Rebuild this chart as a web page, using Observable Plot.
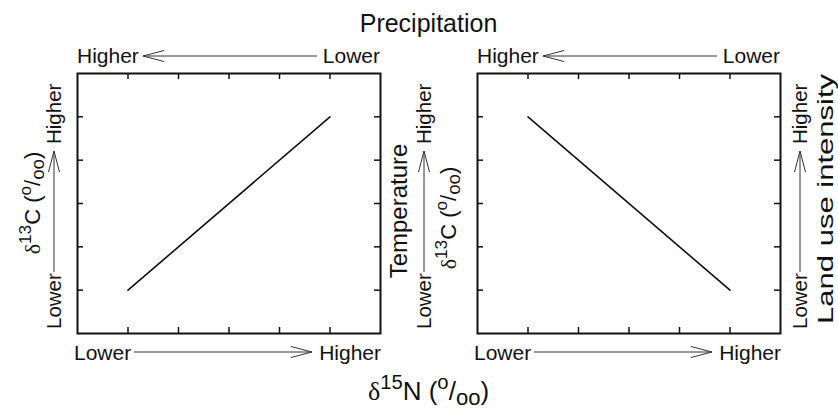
<!DOCTYPE html>
<html><head><meta charset="utf-8">
<script src="https://cdn.jsdelivr.net/npm/d3@7"></script>
<script src="https://cdn.jsdelivr.net/npm/@observablehq/plot@0.6"></script>
<style>
html,body{margin:0;padding:0;background:#fff;}
#chart{width:838px;height:412px;}
svg text{font-family:"Liberation Sans",Arial,Helvetica,sans-serif;fill:#111;}
</style></head><body><div id="chart"></div>
<script>
// ---- data ----
const panels = ["left", "right"];
const n15Values = [1, 5];          // δ15N position (Lower -> Higher)
const c13Left = [1, 5];            // δ13C, left panel
const c13Right = [5, 1];           // δ13C, right panel
const tickValues = [1, 2, 3, 4, 5];
const axisDomain = [0, 6];
const title = "Precipitation";
const topLabels = ["Higher", "Lower"];
const bottomLabels = ["Lower", "Higher"];
const sideLabels = ["Lower", "Higher"];
const middleLabel = "Temperature";
const rightLabel = "Land use intensity";

const rows = [
  ...n15Values.map((x, i) => ({panel: "left", x, y: c13Left[i]})),
  ...n15Values.map((x, i) => ({panel: "right", x, y: c13Right[i]}))
];

// ---- layout ----
const W = 838, H = 412, mT = 73, mB = 79, mL = 77, mR = 58;
const panelH = H - mT - mB;
const panelW = 303;
const tick = 6;
const ink = "#111";

const plot = Plot.plot({
  width: W, height: H,
  marginTop: mT, marginBottom: mB, marginLeft: mL, marginRight: mR,
  fx: {domain: panels, paddingInner: 0.2425, paddingOuter: 0, axis: null, label: null},
  x: {domain: axisDomain, axis: null},
  y: {domain: axisDomain, axis: null},
  style: {background: "white"},
  marks: [
    Plot.tickX(tickValues, {x: d => d, insetBottom: panelH - tick, stroke: ink, strokeWidth: 1.5}),
    Plot.tickX(tickValues, {x: d => d, insetTop: panelH - tick, stroke: ink, strokeWidth: 1.5}),
    Plot.tickY(tickValues, {y: d => d, insetRight: panelW - tick, stroke: ink, strokeWidth: 1.5}),
    Plot.tickY(tickValues, {y: d => d, insetLeft: panelW - tick, stroke: ink, strokeWidth: 1.5}),
    Plot.line(rows, {x: "x", y: "y", fx: "panel", stroke: ink, strokeWidth: 1.6}),
    Plot.frame({stroke: ink, strokeWidth: 2})
  ]
});
document.getElementById("chart").appendChild(plot);

// ---- annotation labels ----
const svg = d3.select(plot);
const g = svg.append("g");

function txt(x, y, str, size, anchor = "start", rot = 0) {
  return g.append("text")
    .attr("transform", `translate(${x},${y}) rotate(${rot})`)
    .attr("text-anchor", anchor).attr("font-size", size).text(str);
}
function arrow(x1, y1, x2, y2) { // tip at (x2,y2)
  g.append("line").attr("x1", x1).attr("y1", y1).attr("x2", x2).attr("y2", y2)
    .attr("stroke", "#333").attr("stroke-width", 1);
  const a = Math.atan2(y2 - y1, x2 - x1), L = 21, w = 5.5;
  const bx = x2 - L * Math.cos(a), by = y2 - L * Math.sin(a);
  const px = -Math.sin(a) * w, py = Math.cos(a) * w;
  g.append("path").attr("d", `M${bx + px},${by + py}L${x2},${y2}L${bx - px},${by - py}`)
    .attr("fill", "none").attr("stroke", "#333").attr("stroke-width", 1);
}
function iso(x, y, mass, elem, size, rot = 0) {
  const t = g.append("text")
    .attr("transform", `translate(${x},${y}) rotate(${rot})`)
    .attr("text-anchor", "middle").attr("font-size", size);
  const s = size * 0.78, sb = size * 0.85, up = size * 0.42, dn = size * 0.2;
  t.append("tspan").attr("style", "font-family:'Liberation Serif',serif").text("δ");
  t.append("tspan").attr("font-size", s).attr("dy", -up).text(mass);
  t.append("tspan").attr("dy", up).text(elem + " (");
  t.append("tspan").attr("font-size", s).attr("dy", -up).text("o");
  t.append("tspan").attr("dy", up).text("/");
  t.append("tspan").attr("font-size", sb).attr("dy", dn).text("oo");
  t.append("tspan").attr("dy", -dn).text(")");
}

txt(428.5, 32, title, 25, "middle");

const lefts = [77, 477];
lefts.forEach(L => {
  const R = L + panelW;
  // top
  txt(L, 63, topLabels[0], 21, "start");
  txt(R, 63, topLabels[1], 21, "end");
  arrow(R - 63, 56, L + 66, 56);
  // bottom
  txt(L - 3, 360, bottomLabels[0], 21, "start");
  txt(R + 1, 360, bottomLabels[1], 21, "end");
  arrow(L + 57, 352, R - 68, 352);
});

// vertical Lower -> Higher
[[61, 54], [431, 424], [807, 800]].forEach(([bx, ax]) => {
  txt(bx, 329, sideLabels[0], 20.5, "start", -90);
  txt(bx, 144, sideLabels[1], 20.5, "start", -90);
  arrow(ax, 272, ax, 151);
});

iso(40, 203, "13", "C", 22, -90);
iso(456, 218, "13", "C", 22, -90);
txt(407, 211, middleLabel, 24, "middle", -90);
txt(833, 199, rightLabel, 22, "middle", -90).attr("textLength", 250).attr("lengthAdjust", "spacingAndGlyphs");
iso(428.5, 400, "15", "N", 26, 0);
</script></body></html>
